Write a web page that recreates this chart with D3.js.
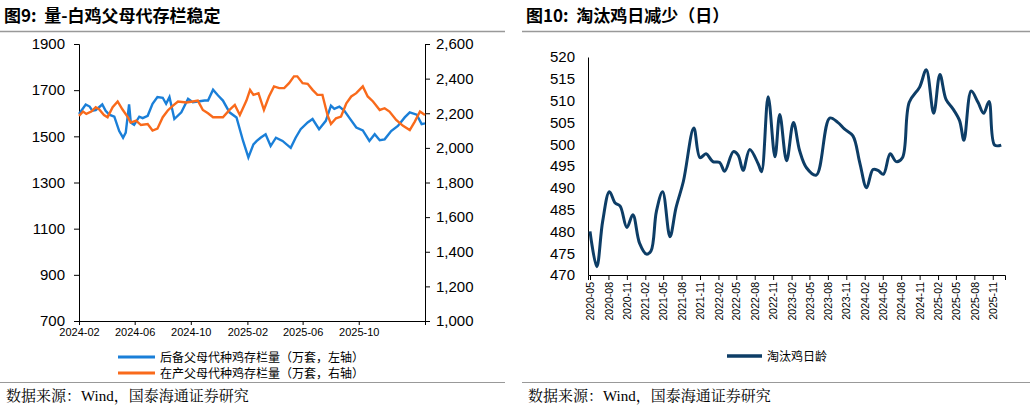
<!DOCTYPE html>
<html><head><meta charset="utf-8">
<script src="https://cdn.jsdelivr.net/npm/d3@7"></script>
<style>body{margin:0;background:#fff}svg{font-family:"Liberation Sans",Arial,"Noto Sans CJK SC",sans-serif}</style>
</head><body><svg id="c" width="1032" height="410"></svg>
<script>
// Left chart: months since 2024-02
const blueM=[0,.48,.76,1.0,1.24,1.48,1.71,1.95,2.19,2.55,2.9,3.19,3.38,3.62,3.74,3.98,4.33,4.57,4.93,5.29,5.64,6.0,6.24,6.48,6.83,7.31,7.79,8.14,8.62,8.98,9.21,9.57,9.93,10.29,10.76,11.24,11.71,12.07,12.43,12.67,13.02,13.38,13.74,14.1,14.57,15.17,15.52,15.88,16.36,16.71,17.19,17.67,18.02,18.26,18.62,18.98,19.33,19.81,20.29,20.76,21.12,21.48,21.83,22.31,22.79,23.26,23.62,24.1,24.45,24.69];
const blueV=[1597,1638,1629,1611,1614,1626,1638,1611,1594,1585,1523,1494,1516,1638,1560,1550,1585,1579,1589,1641,1670,1667,1641,1670,1575,1604,1663,1648,1652,1655,1655,1702,1677,1655,1604,1582,1480,1409,1465,1480,1494,1509,1458,1494,1480,1450,1494,1531,1560,1575,1531,1567,1633,1619,1629,1611,1579,1538,1526,1480,1509,1483,1487,1523,1545,1582,1604,1594,1553,1556];
const orangeM=[0,.29,.52,.88,1.24,1.48,1.83,2.07,2.43,2.79,3.14,3.5,3.74,4.1,4.45,4.93,5.29,5.64,6.0,6.36,6.71,7.07,7.67,8.14,8.5,8.86,9.21,9.57,9.93,10.29,10.76,11.12,11.48,11.95,12.19,12.43,12.79,13.26,13.62,13.98,14.33,14.69,15.05,15.4,15.64,16.0,16.36,16.71,17.07,17.43,17.79,18.02,18.38,18.74,19.1,19.45,19.81,20.29,20.64,21.0,21.48,21.83,22.19,22.67,23.14,23.62,23.98,24.33,24.69];
const orangeV=[2185,2210,2196,2210,2235,2223,2190,2177,2235,2268,2223,2181,2146,2158,2132,2138,2100,2111,2177,2216,2243,2268,2262,2268,2273,2219,2200,2177,2177,2177,2219,2248,2190,2273,2335,2306,2316,2219,2297,2355,2345,2345,2374,2413,2413,2374,2370,2335,2306,2306,2190,2138,2171,2181,2258,2297,2316,2355,2297,2268,2219,2229,2210,2161,2127,2103,2152,2210,2190];
const leftTicksX=["2024-02","2024-06","2024-10","2025-02","2025-06","2025-10"];
const leftYTicks=[700,900,1100,1300,1500,1700,1900];
const rightYTicks=[1000,1200,1400,1600,1800,2000,2200,2400,2600];
const legendL=["后备父母代种鸡存栏量（万套，左轴）","在产父母代种鸡存栏量（万套，右轴）"];
// Right chart: months since 2020-05
const cullM=[0,1.09,2.07,3.16,4.09,4.9,6.0,6.98,8.07,9.17,9.93,10.9,11.9,13.1,14.1,15.3,17.0,18.0,19.0,20.1,21.2,22.1,23.5,24.3,25.1,26.2,27.6,28.1,29.2,30.3,31.1,32.2,33.3,34.4,35.5,37.1,39.3,40.6,41.7,43.1,44.2,45.3,46.4,47.2,48.1,49.2,50.2,51.2,52.3,54.0,55.1,56.3,57.3,58.4,59.5,60.6,61.3,62.5,63.6,64.5,65.4,66.3,67.4];
const cullV=[480,471.9,482.3,489.1,486.5,485.8,480.9,483.8,477.3,474.8,475.5,484.6,489.1,478.8,485.4,491.5,503.7,496.9,497.8,496.0,495.8,493.8,498.3,497.5,494.0,498.8,495.4,493.7,510.9,497.1,506.8,496.2,505.0,498.5,494.6,492.9,506.0,505.0,503.5,501.9,495.8,490.0,494.2,494.0,493.1,497.8,496.0,496.9,509.6,513.1,517.1,507.1,516.0,510.2,508.1,505.4,500.9,512.2,509.6,507.1,509.8,499.8,499.8];
const cullYTicks=[470,475,480,485,490,495,500,505,510,515,520];
const cullLegend="淘汰鸡日龄";
const titles=["图9:  量-白鸡父母代存栏稳定","图10:  淘汰鸡日减少（日）"];
const source="数据来源：Wind，国泰海通证券研究";

const svg=d3.select("#c");
const mdate=(base,m)=>{const f=Math.floor(m);const d=d3.timeMonth.offset(base,f);return new Date(+d+(m-f)*30.44*864e5);};
[[0,505],[522,1030]].forEach(([a,b],i)=>{
  svg.append("text").attr("x",a+4).attr("y",22).attr("font-size",17).attr("font-weight","bold").attr("font-family","'Noto Sans CJK SC',sans-serif").attr("xml:space","preserve").style("white-space","pre").text(titles[i]);
  svg.append("line").attr("x1",a).attr("x2",b).attr("y1",31.5).attr("y2",31.5).attr("stroke","#999").attr("stroke-width",1.5);
  svg.append("line").attr("x1",a).attr("x2",b).attr("y1",382.5).attr("y2",382.5).attr("stroke","#999").attr("stroke-width",1);
  svg.append("text").attr("x",a+6).attr("y",401).attr("font-size",15).attr("font-family","'Liberation Serif','Noto Serif CJK SC','Noto Sans CJK SC',serif").text(source);
});
// LEFT
const b0=new Date(2024,1,1);
const xL=d3.scaleTime().domain([b0,new Date(2026,1,22)]).range([79,425]);
const yL=d3.scaleLinear().domain([700,1900]).range([321,44]);
const yR=d3.scaleLinear().domain([1000,2600]).range([321,44]);
const gL=svg.append("g");
gL.append("g").attr("transform","translate(79,0)").call(d3.axisLeft(yL).tickValues(leftYTicks).tickSize(5).tickFormat(d3.format("d")))
 .call(g=>g.selectAll("text").attr("font-size",15).attr("fill","#000").attr("dx","-6"));
gL.append("g").attr("transform","translate(425,0)").call(d3.axisRight(yR).tickValues(rightYTicks).tickSize(5).tickFormat(d3.format(",")))
 .call(g=>g.selectAll("text").attr("font-size",15).attr("fill","#000").attr("dx","3"));
gL.append("g").attr("transform","translate(0,321)").call(d3.axisBottom(xL).tickValues(leftTicksX.map(s=>new Date(+s.slice(0,4),+s.slice(5)-1,1))).tickSize(4).tickFormat(d3.timeFormat("%Y-%m")))
 .call(g=>g.selectAll("text").attr("font-size",11).attr("fill","#000"));
gL.selectAll(".domain").attr("stroke","#000");
const ln=d3.line().curve(d3.curveLinear);
gL.append("path").attr("d",ln(blueM.map((m,i)=>[xL(mdate(b0,m)),yL(blueV[i])]))).attr("fill","none").attr("stroke","#1a7fd8").attr("stroke-width",2.4);
gL.append("path").attr("d",ln(orangeM.map((m,i)=>[xL(mdate(b0,m)),yR(orangeV[i])]))).attr("fill","none").attr("stroke","#f96a1b").attr("stroke-width",2.4);
legendL.forEach((t,i)=>{const y=357+i*16;
  svg.append("line").attr("x1",118).attr("x2",155).attr("y1",y).attr("y2",y).attr("stroke",i?"#f96a1b":"#1a7fd8").attr("stroke-width",3);
  svg.append("text").attr("x",160).attr("y",y+4.5).attr("font-size",12).attr("font-family","'Noto Sans CJK SC',sans-serif").text(t);});
// RIGHT
const b1=new Date(2020,4,1);
const xC=d3.scaleTime().domain([new Date(2020,3,21),new Date(2026,0,1)]).range([588,1005]);
const yC=d3.scaleLinear().domain([470,520]).range([275,57]);
const gR=svg.append("g");
gR.append("g").attr("transform","translate(588,0)").call(d3.axisLeft(yC).tickValues(cullYTicks).tickSize(0).tickFormat(d3.format("d")))
 .call(g=>g.selectAll("text").attr("font-size",15).attr("fill","#000").attr("dx","-10"));
const qt=d3.range(0,67,3).map(m=>d3.timeMonth.offset(b1,m));
gR.append("g").attr("transform","translate(0,275)").call(d3.axisBottom(xC).tickValues(qt).tickSize(5).tickFormat(d3.timeFormat("%Y-%m")))
 .call(g=>g.selectAll("text").attr("font-size",10.5).attr("fill","#000").attr("transform","rotate(-90)").attr("text-anchor","end").attr("x",-7).attr("y",0).attr("dy","0.35em"));
gR.selectAll(".domain").attr("stroke","#000");
gR.append("path").attr("d",d3.line().curve(d3.curveCatmullRom)(cullM.map((m,i)=>[xC(mdate(b1,m)),yC(cullV[i])]))).attr("fill","none").attr("stroke","#0d3d66").attr("stroke-width",3);
svg.append("line").attr("x1",727).attr("x2",762).attr("y1",356).attr("y2",356).attr("stroke","#0d3d66").attr("stroke-width",3.5);
svg.append("text").attr("x",767).attr("y",360.5).attr("font-size",12).attr("font-family","'Noto Sans CJK SC',sans-serif").text(cullLegend);
</script></body></html>
